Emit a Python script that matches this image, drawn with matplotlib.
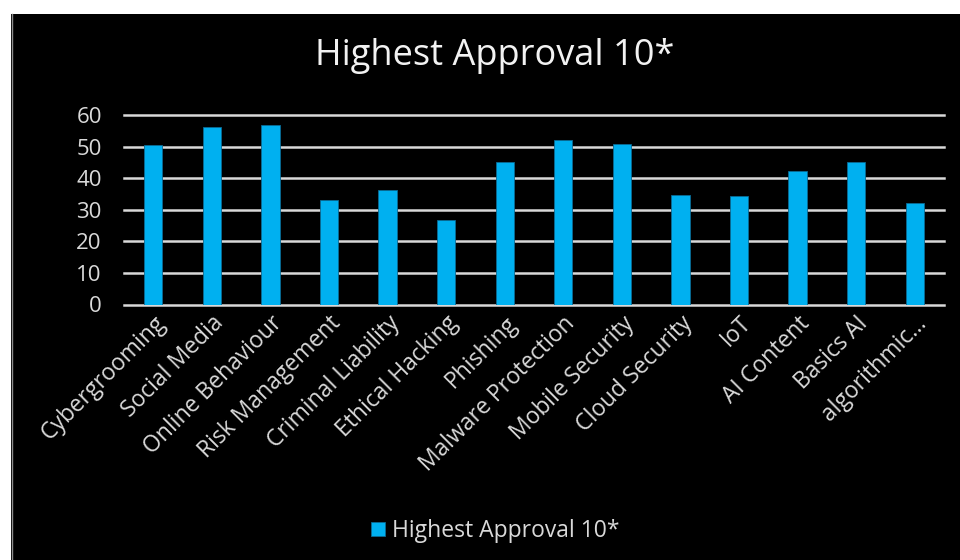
import numpy as np
import matplotlib.pyplot as plt
from matplotlib.patches import Rectangle
from matplotlib.lines import Line2D

topics = ['Cybergrooming', 'Social Media', 'Online Behaviour', 'Risk Management',
          'Criminal Liability', 'Ethical Hacking', 'Phishing', 'Malware Protection',
          'Mobile Security', 'Cloud Security', 'IoT', 'AI Content', 'Basics AI',
          'algorithmic...']
approval = [50.4, 56.2, 56.8, 33.1, 36.1, 26.8, 45.2, 52.1, 50.9, 34.7, 34.2, 42.3, 45.2, 32.0]
series_name = 'Highest Approval 10*'
yticks = [0, 10, 20, 30, 40, 50, 60]

bar_color = '#00B0F0'
text_color = '#D9D9D9'
grid_color = '#D9D9D9'

plt.rcParams['font.family'] = ['Open Sans', 'DejaVu Sans']

fig = plt.figure(figsize=(9.6, 5.6), dpi=100, facecolor='white')
# dark chart area with a thin grey edge on the left
fig.patches.append(Rectangle((11 / 960, 0), 1 - 11 / 960, 1 - 14 / 560,
                             transform=fig.transFigure, facecolor='black',
                             edgecolor='none', zorder=-10))
fig.lines.append(Line2D([11.5 / 960, 11.5 / 960], [0, 1 - 14 / 560],
                        transform=fig.transFigure, color='#8c8c8c',
                        linewidth=1, zorder=-9))

ax = fig.add_axes([124 / 960, 1 - 304.5 / 560, 820 / 960, 189.5 / 560])
ax.set_facecolor('none')

x = np.arange(len(topics))
bars = ax.bar(x, approval, width=0.31, color=bar_color, edgecolor='#0A6A94',
              linewidth=0.6, zorder=3, label=series_name)

ax.set_xlim(-0.5, len(topics) - 0.5)
ax.set_ylim(0, 60)
ax.set_yticks(yticks)
ax.set_xticks(x)
ax.set_xticklabels(topics, rotation=45, ha='right', rotation_mode='anchor',
                   fontsize=16.5, color=text_color)
ax.tick_params(axis='y', length=0, pad=16, labelsize=16, labelcolor=text_color)
ax.tick_params(axis='x', length=0, pad=5)

ax.yaxis.grid(True, color=grid_color, linewidth=1.8, zorder=1)
for gl in ax.get_ygridlines():
    gl.set_clip_on(False)
for side in ['top', 'right', 'left', 'bottom']:
    ax.spines[side].set_visible(False)

fig.text(495 / 960, 1 - 56 / 560, series_name, ha='center', va='center',
         fontsize=26, color='#F2F2F2')

fig.legend(handles=[bars], labels=[series_name], loc='center',
           bbox_to_anchor=(495 / 960, 1 - 531 / 560), frameon=False,
           fontsize=16.5, labelcolor=text_color, handlelength=0.6,
           handleheight=0.6, handletextpad=0.3)

fig.savefig('out.png', dpi=100, facecolor=fig.get_facecolor())
